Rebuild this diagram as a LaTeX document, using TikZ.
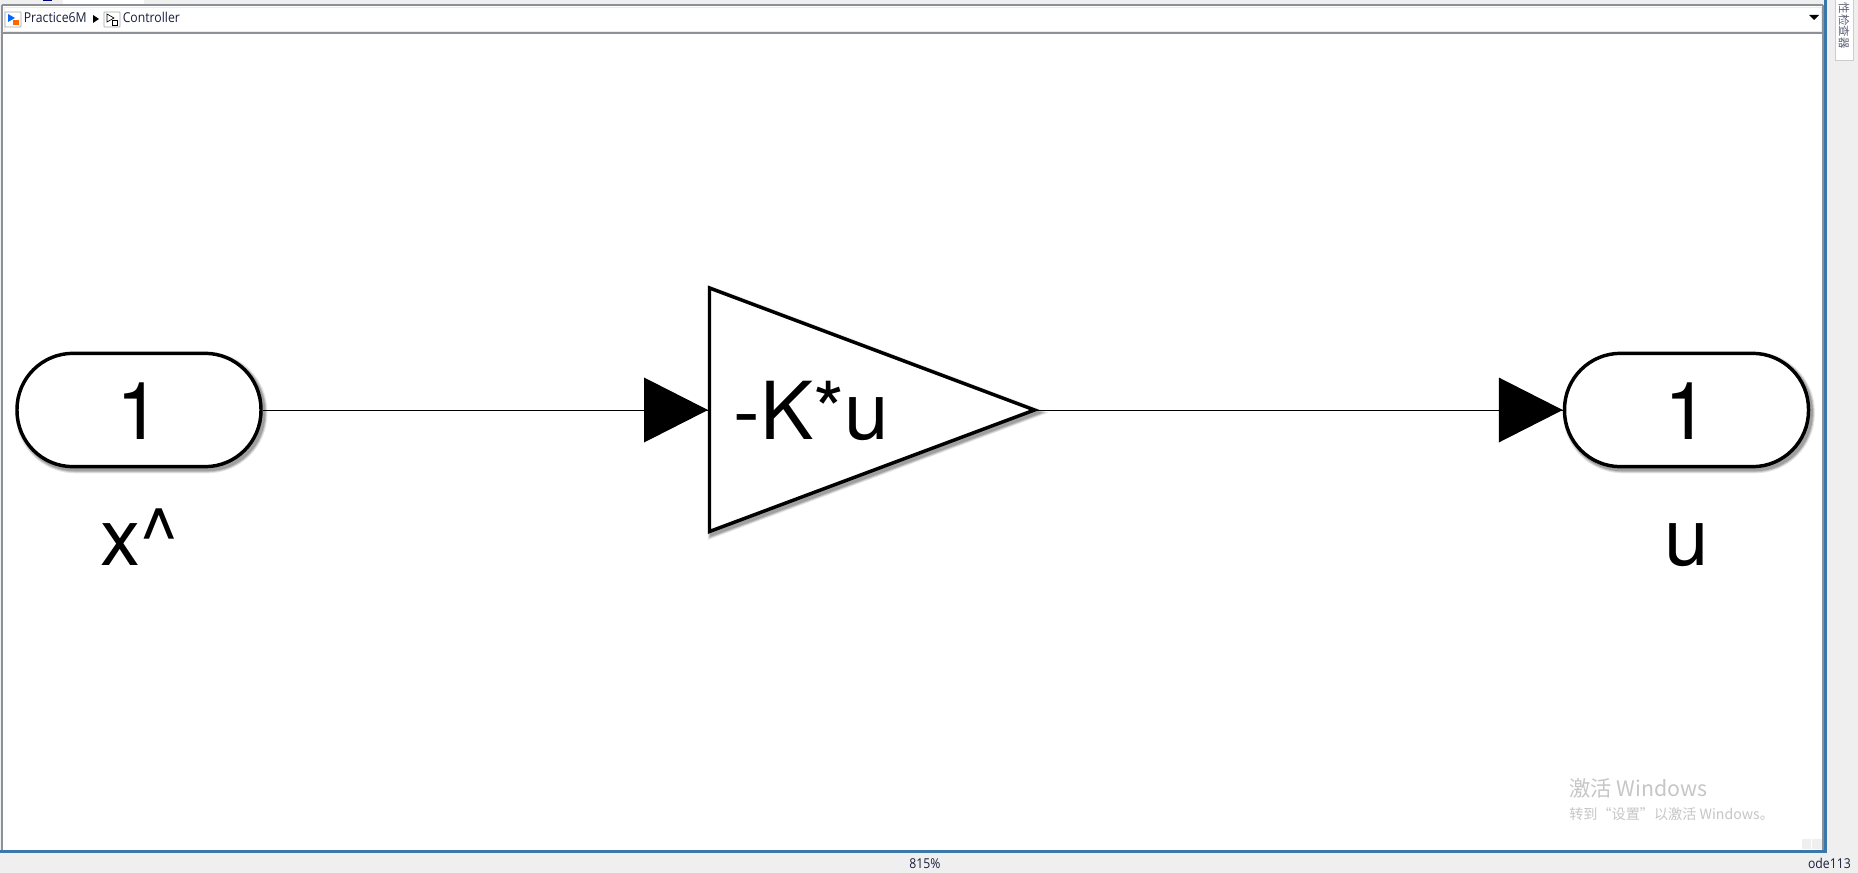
\documentclass[tikz,border=0pt]{standalone}
\usepackage{fontspec}
\usetikzlibrary{calc}
\setmainfont{TeX Gyre Heros}
\newfontfamily\uifont[FakeStretch=0.9]{Open Sans}
\newfontfamily\cjkfont{Noto Sans CJK SC}
\definecolor{chrome}{HTML}{EFEFEF}
\definecolor{frameblue}{HTML}{3A78AC}
\definecolor{framegray}{HTML}{8C9198}
\definecolor{uitext}{HTML}{1A1F3C}
\definecolor{wm}{HTML}{C6C6C6}
\tikzset{
  x=0.75pt,y=-0.75pt,
  softshadow/.style={
    preaction={draw=black,draw opacity=.10,fill=none,line width=6pt,transform canvas={xshift=1.8pt,yshift=-2pt}},
    preaction={draw=black,draw opacity=.14,fill=none,line width=4.5pt,transform canvas={xshift=1.8pt,yshift=-2pt}},
    preaction={draw=black,draw opacity=.18,fill=none,line width=3pt,transform canvas={xshift=1.8pt,yshift=-2pt}},
  },
  blockline/.style={draw=black,line width=2.6pt,line join=miter},
  wire/.style={draw=black,line width=0.75pt},
  head/.style={fill=black,draw=none},
  bigtext/.style={font=\fontsize{60}{60}\selectfont,inner sep=0pt,anchor=base,text=black},
  uilabel/.style={font=\uifont\fontsize{10.2}{12}\selectfont,text=uitext,inner sep=0pt},
  tabicon/.style={draw=gray!70,fill=white,line width=.5pt,rounded corners=.5pt},
  port/.style={blockline,fill=white,rounded corners=42pt,softshadow},
}
\begin{document}
\begin{tikzpicture}
\useasboundingbox (0,0) rectangle (1858,873);
% window chrome
\fill[chrome] (0,0) rectangle (1858,873);
\fill[white] (63,0) rectangle (144,4);
\fill[blue!50!black] (43,0) rectangle (52,1.5);
\fill[white] (3,34) rectangle (1823,850);
\fill[white] (3,6) rectangle (1823,32);
\draw[gray!15,line width=.6pt] (4,7) rectangle (1821,31);
\draw[framegray,line width=1.5pt] (2,5) -- (1823,5);
\draw[framegray,line width=1.5pt] (2,33) -- (1823,33);
\draw[framegray,line width=.9pt] (2,5) -- (2,850);
\draw[framegray,line width=1.5pt] (1823,5) -- (1823,850);
\fill[frameblue] (1824,0) rectangle (1827,853);
\fill[frameblue] (0,850) rectangle (1827,853);
% side tab
\fill[white,draw=gray!40,line width=.5pt] (1835,-2) rectangle (1853,60);
\node[rotate=-90,font=\cjkfont\fontsize{8.6}{9}\selectfont,text=uitext!70,inner sep=0pt,anchor=east] (sidetab) at (1844,49) {性检查器};
% breadcrumb
\draw[tabicon] (5,12) rectangle (21,27);
\fill[blue!60!cyan] (8,14) -- (15,18) -- (8,22) -- cycle;
\fill[orange!80!red] (13,20) rectangle (18.5,25.5);
\node[uilabel,anchor=base west] (crumba) at (23.5,23) {Practice6M};
\fill[black] (93,15) -- (99,19) -- (93,23) -- cycle;
\draw[tabicon] (104,12) rectangle (120,27);
\draw[black,line width=.5pt] (107,14) -- (114,18) -- (107,22) -- cycle;
\draw[black,line width=.5pt] (112,20) rectangle (117.5,25);
\node[uilabel,anchor=base west] (crumbb) at (122.5,23) {Controller};
\fill[black] (1809,15) -- (1819,15) -- (1814,20) -- cycle;
% blocks
\node[port,minimum width=183pt,minimum height=85pt,inner sep=0pt] (inport) at (139,410) {};
\node[port,minimum width=183pt,minimum height=85pt,inner sep=0pt] (outport) at (1686.5,410) {};
\draw[blockline,fill=white,softshadow] (709.5,288) -- (1034.5,410) -- (709.5,531.5) -- cycle;
\coordinate (gainin) at (709,410);
\coordinate (gainout) at (1037,410);
% wires
\draw[wire] (inport.east) -- (gainin);
\draw[wire] (gainout) -- (outport.west);
\fill[head] (gainin) ++(-1,0) -- ++(-64,-32.5) -- ++(0,65) -- cycle;
\fill[head] (outport.west) -- ++(-64,-32.5) -- ++(0,65) -- cycle;
% texts
\node[bigtext] (inone) at (139,439) {1};
\node[bigtext] (outone) at (1686.5,439) {1};
\node[bigtext] (gaintxt) at (811.5,439) {-K*u};
\node[bigtext] (inname) at (139,565) {x\char`\^};
\node[bigtext] (outname) at (1687,565) {u};
% status bar
\node[uilabel,anchor=base] (zoomlab) at (925,868) {815\%};
\node[uilabel,anchor=base east] (solver) at (1851,868) {ode113};
% watermark
\node[font=\cjkfont\fontsize{16}{17}\selectfont,text=wm,inner sep=0pt,anchor=base west] (wma) at (1569,796) {激活 Windows};
\node[font=\cjkfont\fontsize{10.6}{12}\selectfont,text=wm,inner sep=0pt,anchor=base west] (wmb) at (1569,819) {转到“设置”以激活 Windows。};
\fill[chrome] (1802,839) rectangle (1811,849);
\fill[chrome] (1812,839) rectangle (1822,849);
\end{tikzpicture}
\end{document}
